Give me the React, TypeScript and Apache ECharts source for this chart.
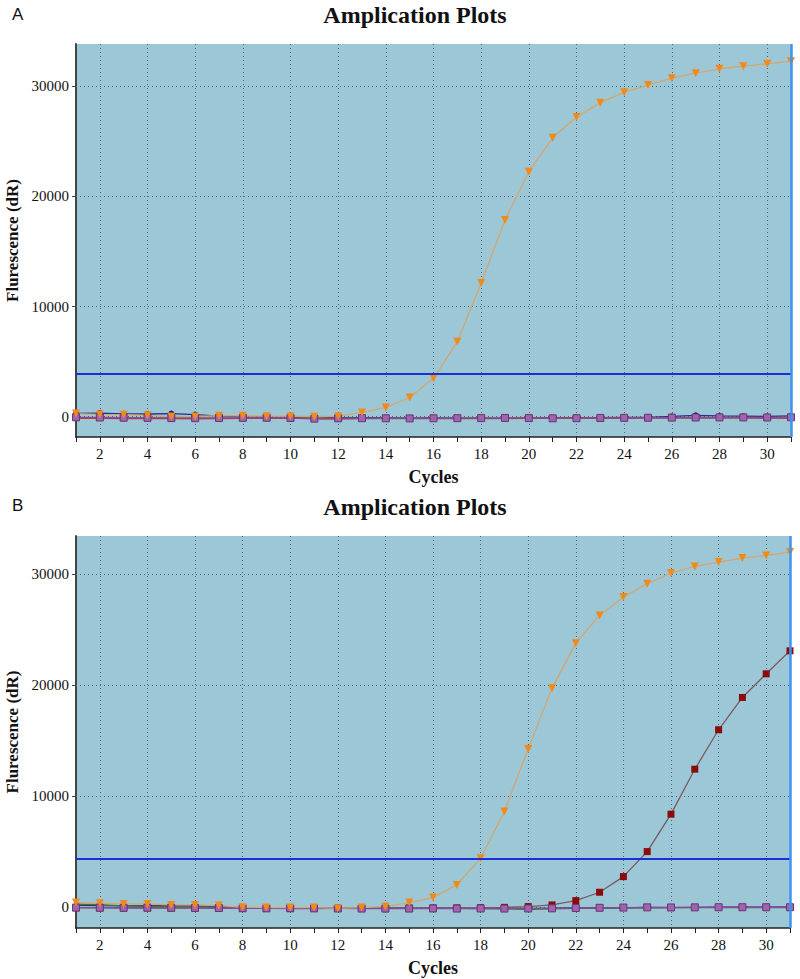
import React, { useEffect, useRef } from "react";
import * as echarts from "echarts";

const cycles = ["1","2","3","4","5","6","7","8","9","10","11","12","13","14","15","16","17","18","19","20","21","22","23","24","25","26","27","28","29","30","31"];
const yTicks = [0, 10000, 20000, 30000];
const titleText = "Amplication Plots";
const xName = "Cycles";
const yName = "Flurescence (dR)";

// Panel A
const orangeA = [280, 200, 180, 120, 10, 20, 80, 80, 40, 40, -10, 40, 380, 830, 1740, 3480, 6800, 12140, 17870, 22250, 25330, 27220, 28520, 29460, 30120, 30750, 31200, 31600, 31840, 32050, 32290];
const navyA = [300, 320, 250, 240, 280, 180, 40, -20, -60, -80, -120, -100, -90, -110, -130, -120, -140, -130, -150, -140, -120, -110, -100, -80, -60, 20, 120, 60, 40, 20, 60];
const purpleA = [-60, -80, -100, -110, -130, -140, -120, -110, -100, -120, -180, -150, -140, -150, -160, -150, -140, -130, -120, -130, -150, -140, -120, -110, -100, -90, -80, -70, -70, -80, -60];
const greenA = [-100, -90, -110, -120, -120, -130, -150, -160, -140, -110, -130, -140, -160, -170, -180, -160, -150, -170, -180, -160, -150, -130, -140, -130, -120, -110, -100, -90, -100, -110, -120];
const redA = [-150, -160, -170, -170, -180, -200, -180, -150, -120, -140, -200, -220, -180, -160, -150, -170, -180, -160, -150, -140, -130, -120, -110, -130, -120, -110, -120, -100, -110, -130, -140];
const thresholdA = 3900;

// Panel B
const orangeB = [390, 330, 270, 270, 180, 180, 120, -30, -60, -60, -60, -120, -60, 30, 390, 840, 1980, 4380, 8590, 14230, 19700, 23750, 26250, 27900, 29100, 30060, 30660, 31050, 31410, 31650, 31950];
const darkRedB = [-80, -90, -100, -90, -100, -110, -120, -130, -140, -150, -150, -140, -130, -120, -110, -100, -90, -70, -40, 30, 180, 570, 1320, 2730, 4980, 8350, 12400, 15950, 18860, 20990, 23060];
const navyB = [150, 120, 100, 110, 90, 80, 20, -40, -80, -100, -100, -110, -120, -120, -130, -120, -130, -140, -130, -150, -120, -100, -90, -80, -50, -60, -40, -30, -30, -20, -10];
const purpleB = [-60, -70, -80, -70, -80, -90, -100, -120, -130, -120, -130, -140, -150, -150, -150, -140, -150, -140, -150, -140, -130, -100, -80, -60, -40, -50, -40, -30, -30, -30, -30];
const greenB = [250, 200, 100, 60, 40, 20, -20, -60, -100, -120, -140, -130, -110, -100, -120, -130, -140, -160, -170, -220, -180, -140, -110, -90, -80, -70, -60, -60, -50, -60, -70];
const thresholdB = 4300;

const serif = "Liberation Serif";
const gridColor = "#486878";
const gridDash = [1, 3];

function xAxisFor(gridIndex: number) {
  return {
    gridIndex,
    type: "category",
    data: cycles,
    boundaryGap: false,
    axisLine: { show: true, onZero: false, lineStyle: { color: "#222", width: 1.5 } },
    axisTick: { show: true, inside: false, length: 5, interval: 0, lineStyle: { color: "#222", width: 1 } },
    axisLabel: {
      interval: (_i: number, v: string) => Number(v) % 2 === 0,
      margin: 9,
      fontFamily: serif,
      fontSize: 15,
      color: "#111",
    },
    splitLine: {
      show: true,
      interval: (_i: number, v: string) => Number(v) % 2 === 0,
      lineStyle: { type: gridDash, color: gridColor, width: 1 },
    },
    name: xName,
    nameLocation: "middle",
    nameGap: 31,
    nameTextStyle: { fontFamily: serif, fontWeight: "bold", fontSize: 18, color: "#111" },
  };
}

function yAxisFor(gridIndex: number, min: number, max: number) {
  return {
    gridIndex,
    type: "value",
    min,
    max,
    axisLine: { show: true, lineStyle: { color: "#444", width: 2 } },
    axisTick: { show: true, customValues: yTicks, length: 4, lineStyle: { color: "#444" } },
    axisLabel: {
      customValues: yTicks,
      margin: 7,
      fontFamily: serif,
      fontSize: 15,
      color: "#111",
      formatter: (v: number) => String(Math.round(v)),
    },
    splitLine: { show: false },
    name: yName,
    nameLocation: "middle",
    nameGap: 52,
    nameTextStyle: { fontFamily: serif, fontWeight: "bold", fontSize: 17, color: "#111" },
  };
}

function panelSeries(idx: number, data: { name: string; values: number[]; line: string; marker: string; symbol: string; size: number; rotate?: number; border?: string }[], threshold: number) {
  const out: any[] = [];
  out.push({
    type: "line",
    xAxisIndex: idx,
    yAxisIndex: idx,
    data: data[0].values,
    symbol: "none",
    silent: true,
    lineStyle: { opacity: 0 },
    z: 1,
    markLine: {
      silent: true,
      symbol: "none",
      z: 1,
      label: { show: false },
      lineStyle: { type: gridDash, color: gridColor, width: 1 },
      data: yTicks.map((v) => ({ yAxis: v })),
    },
  });
  data.forEach((d) => {
    out.push({
      type: "line",
      name: d.name,
      xAxisIndex: idx,
      yAxisIndex: idx,
      data: d.values,
      symbol: d.symbol,
      symbolSize: d.size,
      symbolRotate: d.rotate || 0,
      showSymbol: true,
      lineStyle: { color: d.line, width: 1.3 },
      itemStyle: { color: d.marker, borderColor: d.border || d.marker, borderWidth: d.border ? 1 : 0 },
      z: 3,
    });
  });
  out.push({
    type: "line",
    xAxisIndex: idx,
    yAxisIndex: idx,
    data: data[0].values,
    symbol: "none",
    silent: true,
    lineStyle: { opacity: 0 },
    z: 4,
    markLine: {
      silent: true,
      symbol: "none",
      z: 4,
      label: { show: false },
      data: [
        { yAxis: threshold, lineStyle: { type: "solid", color: "#1b2fd8", width: 2 } },
        { xAxis: "31", lineStyle: { type: "solid", color: "#3f93f0", width: 2.5 } },
      ],
    },
  });
  return out;
}

export default function App() {
  const ref = useRef<HTMLDivElement>(null);
  useEffect(() => {
    if (!ref.current) return;
    const chart = echarts.init(ref.current, undefined, { renderer: "svg" });
    const seriesA = panelSeries(0, [
      { name: "navy", values: navyA, line: "#24308a", marker: "#1b1b7a", symbol: "circle", size: 6 },
      { name: "green", values: greenA, line: "#2e8b3a", marker: "#2e8b3a", symbol: "rect", size: 4 },
      { name: "red", values: redA, line: "#c83232", marker: "#b02a2a", symbol: "rect", size: 4 },
      { name: "purple", values: purpleA, line: "#8a4a9a", marker: "#a064ac", symbol: "rect", size: 7, border: "#6a3478" },
      { name: "orange", values: orangeA, line: "#d6a56e", marker: "#f28a18", symbol: "triangle", size: 8, rotate: 180 },
    ], thresholdA);
    const seriesB = panelSeries(1, [
      { name: "navy", values: navyB, line: "#24308a", marker: "#1b1b7a", symbol: "rect", size: 4 },
      { name: "green", values: greenB, line: "#3d7a2a", marker: "#3d7a2a", symbol: "rect", size: 4 },
      { name: "darkred", values: darkRedB, line: "#7a5a62", marker: "#8b0a0a", symbol: "rect", size: 7 },
      { name: "purple", values: purpleB, line: "#8a4a9a", marker: "#a064ac", symbol: "rect", size: 7, border: "#6a3478" },
      { name: "orange", values: orangeB, line: "#d6a56e", marker: "#f28a18", symbol: "triangle", size: 8, rotate: 180 },
    ], thresholdB);

    chart.setOption({
      animation: false,
      backgroundColor: "#ffffff",
      grid: [
        { left: 76, top: 44, width: 715, height: 393, show: true, backgroundColor: "#9cc7d7", borderWidth: 0, containLabel: false, outerBoundsMode: "none" },
        { left: 76, top: 536, width: 714, height: 392, show: true, backgroundColor: "#9cc7d7", borderWidth: 0, containLabel: false, outerBoundsMode: "none" },
      ],
      xAxis: [xAxisFor(0), xAxisFor(1)],
      yAxis: [yAxisFor(0, -1850, 33850), yAxisFor(1, -1900, 33400)],
      series: [...seriesA, ...seriesB],
      graphic: [
        { type: "text", left: 12, top: 6, style: { text: "A", fontFamily: "Liberation Sans", fontSize: 17, fill: "#111" } },
        { type: "text", left: 12, top: 497, style: { text: "B", fontFamily: "Liberation Sans", fontSize: 17, fill: "#111" } },
        { type: "text", x: 415, y: 15, style: { text: titleText, fontFamily: serif, fontWeight: "bold", fontSize: 24, fill: "#111", align: "center", verticalAlign: "middle" } },
        { type: "text", x: 415, y: 507, style: { text: titleText, fontFamily: serif, fontWeight: "bold", fontSize: 24, fill: "#111", align: "center", verticalAlign: "middle" } },
      ],
    });
    return () => chart.dispose();
  }, []);
  return <div ref={ref} style={{ position: "fixed", left: 0, top: 0, width: 800, height: 979 }} />;
}
